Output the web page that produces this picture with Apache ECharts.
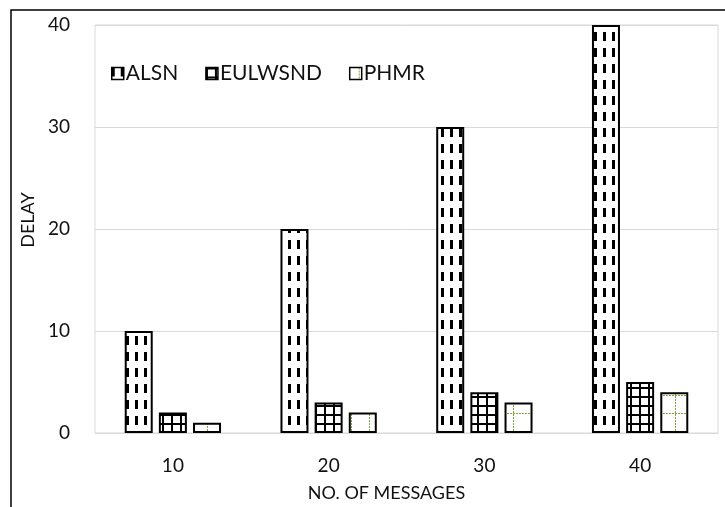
<!DOCTYPE html>
<html>
<head>
<meta charset="utf-8">
<script src="https://cdn.jsdelivr.net/npm/echarts@6/dist/echarts.min.js"></script>
<style>
  html, body { margin: 0; padding: 0; background: #fff; }
  #chart { width: 725px; height: 507px; }
</style>
</head>
<body>
<div id="chart"></div>
<script>
// Delay versus number of messages for three routing schemes
const categories = ['10', '20', '30', '40'];
const alsn = [10, 20, 30, 40];
const eulwsnd = [2, 3, 4, 5];
const phmr = [1, 2, 3, 4];
const seriesNames = ['ALSN', 'EULWSND', 'PHMR'];
const yTicks = [0, 10, 20, 30, 40];

// Hatch fills built on small canvases
function makeTile(w, h, draw) {
  const c = document.createElement('canvas');
  c.width = w; c.height = h;
  const ctx = c.getContext('2d');
  ctx.fillStyle = '#fff';
  ctx.fillRect(0, 0, w, h);
  draw(ctx);
  return c;
}
// dashed vertical lines
const dashTile = makeTile(9, 16, ctx => {
  ctx.fillStyle = '#000';
  ctx.fillRect(0, 0, 3, 9);
});
// square grid
const gridTile = makeTile(9, 9, ctx => {
  ctx.fillStyle = '#000';
  ctx.fillRect(0, 0, 9, 2);
  ctx.fillRect(0, 0, 2, 9);
});
// sparse dotted green grid
const dotTile = makeTile(18, 18, ctx => {
  ctx.fillStyle = '#7fa53a';
  for (let i = 0; i < 18; i += 3) {
    ctx.fillRect(i, 17, 2, 1);
    ctx.fillRect(9, i, 1, 2);
  }
});

const fills = [dashTile, gridTile, dotTile];
const values = [alsn, eulwsnd, phmr];
const FONT = 'Lato';
const INK = '#111';

const chart = echarts.init(document.getElementById('chart'), null, { renderer: 'canvas' });
chart.setOption({
  backgroundColor: '#fff',
  animation: false,
  textStyle: { fontFamily: FONT, color: INK },
  graphic: [{
    type: 'rect',
    shape: { x: 11, y: 10, width: 740, height: 520 },
    style: { fill: 'none', stroke: '#000', lineWidth: 1.5 },
    silent: true,
    z: -1
  }],
  grid: {
    left: 95, top: 25, right: 7, bottom: 73,
    show: true, borderColor: '#d9d9d9', borderWidth: 1
  },
  legend: {
    left: 106, top: 58,
    icon: 'rect',
    itemWidth: 12, itemHeight: 12, itemGap: 27,
    data: seriesNames,
    itemStyle: { borderWidth: 1.5 },
    textStyle: { fontFamily: FONT, fontSize: 21, color: INK, padding: [0, 0, 0, -3] }
  },
  xAxis: {
    type: 'category',
    data: categories,
    name: 'NO. OF MESSAGES',
    nameLocation: 'middle',
    nameGap: 51,
    nameTextStyle: { fontFamily: FONT, fontSize: 18, color: INK, padding: [0, 40, 0, 0] },
    axisLine: { show: true, lineStyle: { color: '#d9d9d9', width: 1 } },
    axisTick: { show: false },
    axisLabel: { fontSize: 19, color: INK, margin: 23 }
  },
  yAxis: {
    type: 'value',
    min: yTicks[0], max: yTicks[yTicks.length - 1], interval: 10,
    name: 'DELAY',
    nameLocation: 'middle',
    nameGap: 55,
    nameTextStyle: { fontFamily: FONT, fontSize: 18, color: INK, padding: [0, 0, 0, 18] },
    axisLine: { show: false },
    axisTick: { show: false },
    splitLine: { lineStyle: { color: '#d9d9d9', width: 1 } },
    axisLabel: { fontSize: 19, color: INK, margin: 25 }
  },
  series: seriesNames.map((name, i) => ({
    name,
    type: 'bar',
    data: values[i],
    barWidth: 28,
    barGap: '22%',
    itemStyle: {
      color: { image: fills[i], repeat: 'repeat' },
      borderColor: '#000',
      borderWidth: 2
    }
  }))
});
</script>
</body>
</html>
